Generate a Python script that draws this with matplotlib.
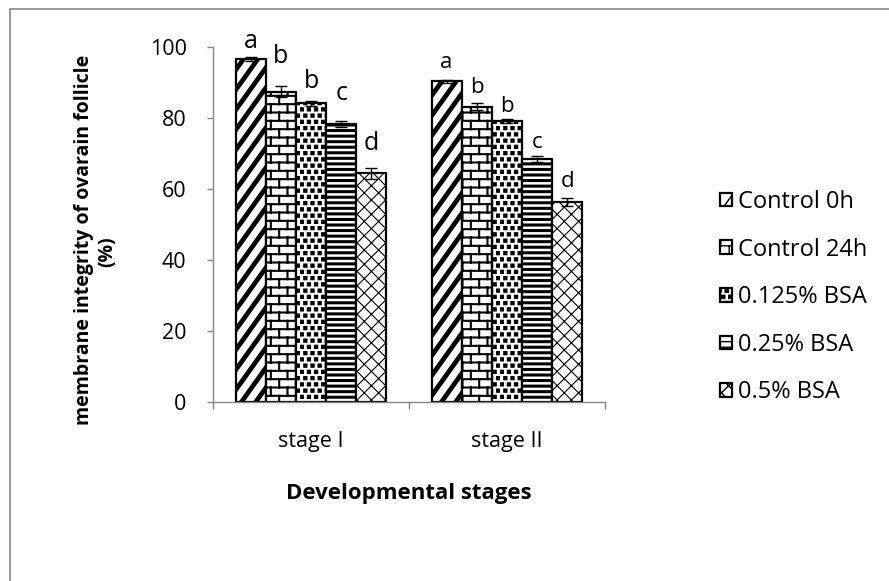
import warnings
import numpy as np
import matplotlib
matplotlib.use('Agg')
import matplotlib.pyplot as plt
from matplotlib import hatch as mhatch
from matplotlib.path import Path
from matplotlib.lines import Line2D

warnings.filterwarnings('ignore')

# membrane integrity (%) per treatment, one value per stage
stages = ['stage I', 'stage II']
treatments = ['Control 0h', 'Control 24h', '0.125% BSA', '0.25% BSA', '0.5% BSA']
control_0h = [96.6, 90.4]
control_24h = [87.4, 83.2]
bsa_0125 = [84.1, 79.1]
bsa_025 = [78.3, 68.5]
bsa_05 = [64.4, 56.3]

err_control_0h = [0.5, 0.4]
err_control_24h = [1.5, 0.9]
err_bsa_0125 = [0.8, 0.6]
err_bsa_025 = [0.8, 0.8]
err_bsa_05 = [1.5, 1.2]

# significance letters, per stage
letters_stage1 = ['a', 'b', 'b', 'c', 'd']
letters_stage2 = ['a', 'b', 'b', 'c', 'd']


# --- extra hatch patterns: steep stripes 's', bricks 'b', square dots 'q', diamonds 'd'
class SegmentHatch(mhatch.HatchPatternBase):
    char = None

    def __init__(self, hatch, density):
        n = hatch.count(self.char) if hatch else 0
        self.polys = self.make(n, density) if n else []
        self.num_vertices = sum(len(p) for p in self.polys)

    def set_vertices_and_codes(self, vertices, codes):
        i = 0
        for p in self.polys:
            m = len(p)
            vertices[i:i + m] = p
            codes[i:i + m] = Path.LINETO
            codes[i] = Path.MOVETO
            if m > 2:
                codes[i + m - 1] = Path.CLOSEPOLY
            i += m


def slanted_lines(kx, run, sign=1):
    # kx lines per unit across, each one moving run/kx in x over the full height
    polys = []
    for j in range(-run - 1, kx + run + 2):
        t0, t1 = -0.1, 1.1
        polys.append(np.array([[(j + sign * run * t0) / kx, t0],
                               [(j + sign * run * t1) / kx, t1]]))
    return polys


class SteepStripes(SegmentHatch):
    char = 's'

    def make(self, n, density):
        return slanted_lines(7, 5)


class Diamonds(SegmentHatch):
    char = 'd'

    def make(self, n, density):
        return slanted_lines(7, 7) + slanted_lines(7, 7, sign=-1)


class Bricks(SegmentHatch):
    char = 'b'

    def make(self, n, density):
        rows, cols = 2 * density * n, density * n
        polys = []
        for i in range(rows):
            y = (i + 0.5) / rows
            polys.append(np.array([[-0.05, y], [1.05, y]]))
        for i in range(-1, rows):
            y0, y1 = (i + 0.5) / rows, (i + 1.5) / rows
            shift = 0.5 if i % 2 else 0.0
            for j in range(-1, cols + 1):
                x = (j + shift + 0.25) / cols
                polys.append(np.array([[x, y0], [x, y1]]))
        return polys


class SquareDots(SegmentHatch):
    char = 'q'

    def make(self, n, density):
        rows, cols = 16 * n, 14 * n
        h = 0.016
        polys = []
        for i in range(rows):
            y = (i + 0.5) / rows
            shift = 0.5 if i % 2 else 0.0
            for j in range(cols):
                x = (j + shift + 0.25) / cols
                polys.append(np.array([[x - h, y - h], [x + h, y - h],
                                       [x + h, y + h], [x - h, y + h],
                                       [x - h, y - h]]))
        return polys


mhatch._hatch_types.extend([SteepStripes, Diamonds, Bricks, SquareDots])

plt.rcParams['font.family'] = ['Open Sans', 'DejaVu Sans']

W, H = 889, 581
fig = plt.figure(figsize=(W / 100, H / 100), dpi=100)
ax = fig.add_axes([213 / W, 1 - 402 / H, 392 / W, 355 / H])

series = [control_0h, control_24h, bsa_0125, bsa_025, bsa_05]
errors = [err_control_0h, err_control_24h, err_bsa_0125, err_bsa_025, err_bsa_05]
hatches = ['s', 'b', 'q', '---', 'd']
hatch_lw = [3.4, 1.5, 0.8, 2.2, 0.8]

x = np.arange(len(stages))
bar_w = 0.154
letters = [letters_stage1, letters_stage2]
letter_pad = [[2.6, 6.6, 3.6, 6.0, 5.1], [3.3, 3.0, 2.0, 2.2, 3.1]]
letter_size = [18, 16]

for k, (vals, errs) in enumerate(zip(series, errors)):
    pos = x + (k - 2) * bar_w
    with plt.rc_context({'hatch.linewidth': hatch_lw[k]}):
        bars = ax.bar(pos, vals, width=bar_w, color='white', edgecolor='black',
                      linewidth=1.6, hatch=hatches[k], label=treatments[k], zorder=2)
        for b in bars:
            if hasattr(b, 'set_hatch_linewidth'):
                b.set_hatch_linewidth(hatch_lw[k])
    ax.errorbar(pos, vals, yerr=errs, fmt='none', ecolor='black', elinewidth=1,
                capsize=4, capthick=1, zorder=3)
    for s in range(len(stages)):
        ax.text(pos[s], vals[s] + errs[s] + letter_pad[s][k], letters[s][k],
                ha='center', va='baseline', fontsize=letter_size[s])

ax.set_xlim(-0.5, 1.5)
ax.set_ylim(0, 100)
ax.set_yticks(range(0, 101, 20))
ax.set_xticks(x)
ax.set_xticklabels(stages)
ax.set_xticks([-0.5, 0.5, 1.5], minor=True)
ax.tick_params(axis='x', which='major', length=0, pad=21, labelsize=15.5)
ax.tick_params(axis='x', which='minor', length=5, color='#868686', width=1)
ax.tick_params(axis='y', length=4, color='#868686', width=1, pad=15, labelsize=15.5)

for side in ['top', 'right']:
    ax.spines[side].set_visible(False)
for side in ['left', 'bottom']:
    ax.spines[side].set_color('#868686')
    ax.spines[side].set_linewidth(1)

ax.set_xlabel('Developmental stages', fontsize=16, fontweight='bold', labelpad=22)

# y title, wrapped onto two lines
fig.text(84 / W, 1 - 240 / H, 'membrane integrity of ovarain follicle', rotation=90,
         ha='center', va='center', fontsize=14, fontweight='bold')
fig.text(107 / W, 1 - 252 / H, '(%)', rotation=90,
         ha='center', va='center', fontsize=14, fontweight='bold')

leg = ax.legend(loc='upper left', bbox_to_anchor=(720 / W, 1 - 190 / H),
                bbox_transform=fig.transFigure, frameon=False, fontsize=17,
                handlelength=0.5, handleheight=0.5, handletextpad=0.28,
                labelspacing=1.0, borderaxespad=0, borderpad=0)

# outer chart frame
fig.add_artist(Line2D([10 / W, 10 / W, 1.0], [0.0, 1 - 9 / H, 1 - 9 / H],
                      transform=fig.transFigure, color='#868686', linewidth=1.2))

fig.savefig('out.png', dpi=100)
